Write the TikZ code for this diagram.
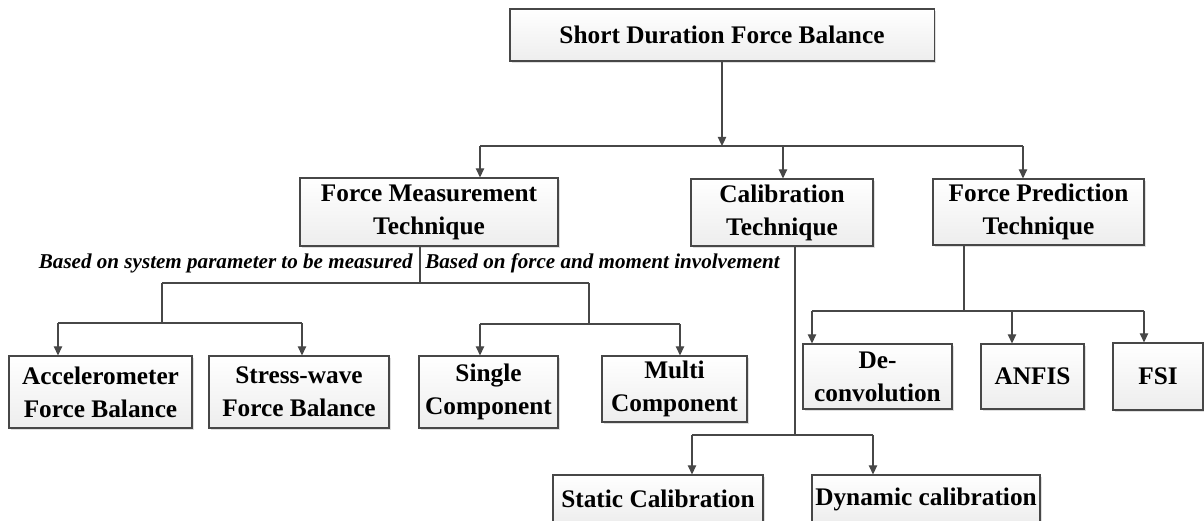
\documentclass[tikz,border=0pt]{standalone}
\usepackage{fontspec}
\setmainfont{Liberation Serif}
\usetikzlibrary{arrows.meta,shadows}
\definecolor{edge}{HTML}{474747}
\begin{document}
\begin{tikzpicture}[
    x=0.025cm, y=-0.025cm,
    box/.style={draw=edge, line width=0.8pt, top color=white, bottom color=gray!14,
        drop shadow={shadow xshift=1.6pt, shadow yshift=-1.6pt, fill=gray, opacity=0.25},
        align=center, inner sep=2pt, font=\bfseries\fontsize{18}{23.4}\selectfont},
    lbl/.style={font=\bfseries\itshape\fontsize{15}{18}\selectfont, inner sep=0pt},
    ln/.style={draw=edge, line width=0.9pt},
    arr/.style={ln, -{Triangle[length=6.5pt,width=6pt]}}
]
    \useasboundingbox (0,0) rectangle (1204,520);

    % boxes
    \node[box, minimum width=10.6cm, minimum height=1.3cm] (top) at (722,35) {Short Duration Force Balance};

    \node[box, minimum width=6.45cm, minimum height=1.7cm] (fm) at (429,212) {Force Measurement\\Technique};
    \node[box, minimum width=4.55cm, minimum height=1.675cm] (cal) at (782,212.5) {Calibration\\Technique};
    \node[box, minimum width=5.275cm, minimum height=1.65cm] (fp) at (1038.5,212) {Force Prediction\\Technique};

    \node[box, minimum width=4.575cm, minimum height=1.8cm] (acc) at (100.5,392) {Accelerometer\\Force Balance};
    \node[box, minimum width=4.5cm, minimum height=1.8cm] (sw) at (299,392) {Stress-wave\\Force Balance};
    \node[box, minimum width=3.475cm, minimum height=1.8cm] (sc) at (488.5,392) {Single\\Component};
    \node[box, minimum width=3.625cm, minimum height=1.65cm] (mc) at (674.5,389) {Multi\\Component};

    \node[box, minimum width=3.725cm, minimum height=1.625cm] (dec) at (877.5,376.5) {De-\\convolution};
    \node[box, minimum width=2.575cm, minimum height=1.625cm] (anf) at (1032.5,376.5) {ANFIS};
    \node[box, minimum width=2.25cm, minimum height=1.675cm] (fsi) at (1158,376.5) {FSI};

    \node[box, minimum width=5.25cm, minimum height=1.2cm] (stc) at (658,499) {Static Calibration};
    \node[box, minimum width=5.7cm, minimum height=1.2cm] (dyn) at (926,499) {Dynamic calibration};

    % labels
    \node[lbl, anchor=base east] (lsys) at (413,268) {Based on system parameter to be measured};
    \node[lbl, anchor=base west] (lfm) at (425,268) {Based on force and moment involvement};

    % top level
    \coordinate (j0) at (722,146);
    \coordinate (j1) at (480,146);
    \coordinate (j2) at (783,146);
    \coordinate (j3) at (1023,146);
    \draw[arr] (top) -- (j0);
    \draw[ln] (j1) -- (j3);
    \draw[arr] (j1) -- (j1 |- fm.north);
    \draw[arr] (j2) -- (j2 |- cal.north);
    \draw[arr] (j3) -- (j3 |- fp.north);

    % force measurement
    \coordinate (k0) at (420,283);
    \coordinate (k1) at (162,283);
    \coordinate (k2) at (589,283);
    \coordinate (k3) at (162,323);
    \coordinate (k4) at (58,323);
    \coordinate (k5) at (302,323);
    \coordinate (k6) at (589,324);
    \coordinate (k7) at (480,324);
    \coordinate (k8) at (680,324);
    \draw[ln] (fm.south -| k0) -- (k0) (k1) -- (k2);
    \draw[ln] (k1) -- (k3) (k4) -- (k5);
    \draw[ln] (k2) -- (k6) (k7) -- (k8);
    \draw[arr] (k4) -- (k4 |- acc.north);
    \draw[arr] (k5) -- (k5 |- sw.north);
    \draw[arr] (k7) -- (k7 |- sc.north);
    \draw[arr] (k8) -- (k8 |- mc.north);

    % calibration
    \coordinate (c0) at (795,435);
    \coordinate (c1) at (692,435);
    \coordinate (c2) at (873,435);
    \draw[ln] (cal.south -| c0) -- (c0) (c1) -- (c2);
    \draw[arr] (c1) -- (c1 |- stc.north);
    \draw[arr] (c2) -- (c2 |- dyn.north);

    % force prediction
    \coordinate (p0) at (964,311);
    \coordinate (p1) at (812,311);
    \coordinate (p2) at (1012,311);
    \coordinate (p3) at (1144,311);
    \draw[ln] (fp.south -| p0) -- (p0) (p1) -- (p3);
    \draw[arr] (p1) -- (p1 |- dec.north);
    \draw[arr] (p2) -- (p2 |- anf.north);
    \draw[arr] (p3) -- (p3 |- fsi.north);
\end{tikzpicture}
\end{document}
